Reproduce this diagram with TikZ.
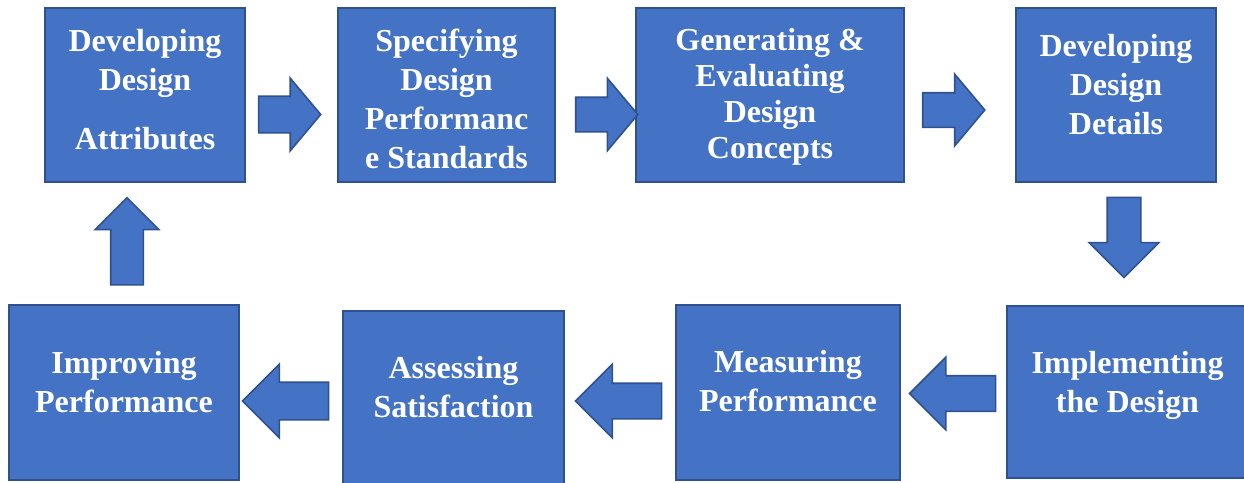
\documentclass[tikz,border=0pt]{standalone}
\usepackage{fontspec}
\setmainfont{Liberation Serif}
\usepackage{tikz}
\usetikzlibrary{shapes.arrows}
\definecolor{boxblue}{HTML}{4472C4}
\definecolor{boxline}{HTML}{2F528F}
\tikzstyle{stage} = [rectangle, draw=boxline, fill=boxblue, line width=1.6pt, text=white, font=\fontsize{32}{39}\selectfont\bfseries, align=center, inner sep=0pt]
\tikzstyle{fat} = [single arrow, draw=boxline, fill=boxblue, line width=1.6pt, inner xsep=2pt, inner ysep=17pt, single arrow head extend=18pt]
\tikzstyle{fatright} = [fat, minimum height=62pt, single arrow tip angle=100]
\tikzstyle{fatleft} = [fat, minimum height=86pt, shape border rotate=180]

\begin{document}
\begin{tikzpicture}[x=1pt, y=-1pt]
\useasboundingbox (0,0) rectangle (1244,482);
% top row (the last \\[..] lifts the text a little)
\node (dev) [stage, minimum width=200pt, minimum height=174pt] at (145,95) {Developing\\Design\\[20pt]Attributes\\[-27pt]};
\node (spec) [stage, minimum width=217pt, minimum height=174pt] at (446.5,95) {Specifying\\Design\\Performanc\\e Standards\\[-47pt]};
\node (gen) [stage, minimum width=268pt, minimum height=174pt] at (770,95) {Generating \&\\[-3pt]Evaluating\\[-3pt]Design\\[-3pt]Concepts\\[-36pt]};
\node (det) [stage, minimum width=200pt, minimum height=174pt] at (1116,95) {Developing\\Design\\Details\\[-17pt]};
% bottom row
\node (impl) [stage, minimum width=241pt, minimum height=172pt] at (1127.5,392) {Implementing\\the Design\\[-18pt]};
\node (meas) [stage, minimum width=224pt, minimum height=175pt] at (788,392.5) {Measuring\\Performance\\[-16pt]};
\node (assess) [stage, minimum width=221pt, minimum height=174pt] at (453.5,398) {Assessing\\Satisfaction\\[-17pt]};
\node (impr) [stage, minimum width=230pt, minimum height=175pt] at (124,392.5) {Improving\\Performance\\[-17pt]};
% block arrows
\node (a1) [fatright, inner ysep=17.5pt] at (282,114.5) {};
\node (a2) [fatright, inner ysep=16.5pt, single arrow head extend=19pt] at (599.5,114.5) {};
\node (a3) [fatright, inner ysep=16.5pt, single arrow head extend=18.5pt] at (946.5,110) {};
\node (a4) [fat, inner sep=16pt, minimum height=80pt, shape border rotate=270] at (1124,229) {};
\node (a5) [fatleft, single arrow head extend=18.5pt] at (961.5,393.5) {};
\node (a6) [fatleft, single arrow head extend=19pt] at (627.5,401) {};
\node (a7) [fatleft, inner ysep=18pt] at (295,401) {};
\node (a8) [fat, inner sep=15.5pt, minimum height=87pt, single arrow head extend=15.5pt, shape border rotate=90] at (127,249.5) {};
\end{tikzpicture}
\end{document}
